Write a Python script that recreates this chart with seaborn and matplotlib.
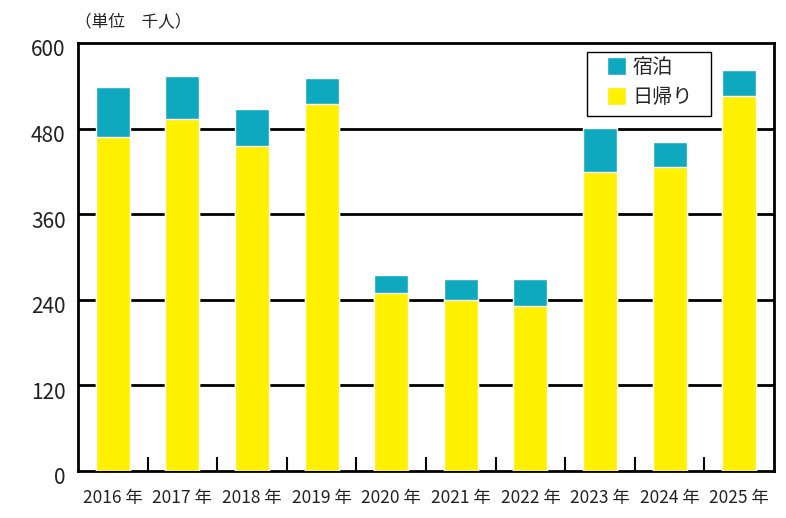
import matplotlib
matplotlib.use("Agg")
import matplotlib.pyplot as plt
import matplotlib.transforms as mtransforms
import seaborn as sns
import pandas as pd
from matplotlib.patches import Patch, Rectangle
from matplotlib.ticker import FixedLocator

years = ["2016 年", "2017 年", "2018 年", "2019 年", "2020 年",
         "2021 年", "2022 年", "2023 年", "2024 年", "2025 年"]
daytrip = [468, 494, 456, 514, 250, 240, 231, 419, 426, 526]
overnight = [70, 60, 52, 37, 25, 29, 38, 62, 35, 36]
yticks = [0, 120, 240, 360, 480, 600]

sns.set_theme(style="white")
plt.rcParams['font.family'] = ['Noto Sans CJK JP', 'DejaVu Sans']

teal = "#0EA9BF"
yellow = "#FFF100"

df = pd.DataFrame({"year": years, "daytrip": daytrip, "overnight": overnight})
df["total"] = df["daytrip"] + df["overnight"]

W, H = 786, 518
fig = plt.figure(figsize=(W / 100, H / 100), dpi=100)
ax = fig.add_axes([78 / W, 1 - 471 / H, (774 - 78) / W, (471 - 43) / H])

sns.barplot(data=df, x="year", y="total", color=teal, width=0.49,
            saturation=1, ax=ax, zorder=3)
sns.barplot(data=df, x="year", y="daytrip", color=yellow, width=0.49,
            saturation=1, ax=ax, zorder=3)

ax.set_ylim(0, 600)
ax.set_xlim(-0.5, 9.5)
ax.set_yticks(yticks)
ax.set_yticklabels([str(v) for v in yticks], fontsize=15, color='#222222')
ax.tick_params(axis='y', length=0, pad=9)
ax.tick_params(axis='x', which='major', length=0, labelsize=12.5, pad=13,
               labelcolor='#222222')
ax.xaxis.set_minor_locator(FixedLocator([i + 0.5 for i in range(9)]))
ax.tick_params(axis='x', which='minor', direction='in', length=10, width=1.5,
               color='black', bottom=True)
ax.set_xlabel("")
ax.set_ylabel("")

offset = mtransforms.ScaledTranslation(0, -5 / 100, fig.dpi_scale_trans)
for lab in ax.get_yticklabels():
    lab.set_transform(lab.get_transform() + offset)

for y in yticks[1:-1]:
    ax.axhline(y, color='black', lw=2, zorder=2)

for s in ax.spines.values():
    s.set_color('black')
    s.set_linewidth(2)
    s.set_visible(True)

# legend frame
frame = Rectangle((587 / W, 1 - 116 / H), (711 - 587) / W, (116 - 52) / H,
                  transform=fig.transFigure, facecolor='white', edgecolor='black',
                  lw=1, zorder=4)
fig.patches.append(frame)

handles = [Patch(facecolor=teal, label="宿泊"), Patch(facecolor=yellow, label="日帰り")]
leg = fig.legend(handles=handles, loc='upper left',
                 bbox_to_anchor=(607 / W, 1 - 57 / H),
                 fontsize=14.5, frameon=False,
                 handlelength=0.95, handleheight=0.95, handletextpad=0.3,
                 borderpad=0, labelspacing=0.45, borderaxespad=0)
leg.set_zorder(5)

fig.text(75 / W, 1 - 22 / H, "（単位　千人）", fontsize=12, va='center',
         ha='left', color='#222222')

fig.savefig("out.png", dpi=100, facecolor='white')
